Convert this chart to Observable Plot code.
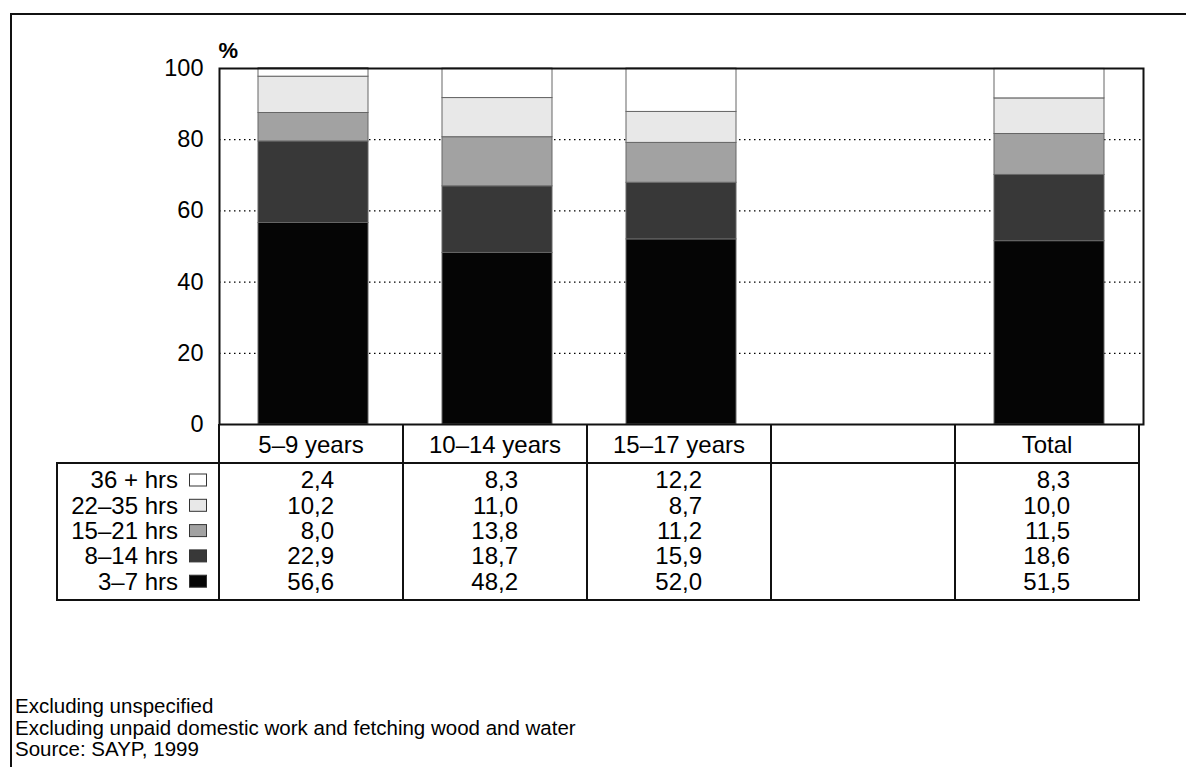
<!DOCTYPE html>
<html>
<head>
<meta charset="utf-8">
<script src="https://cdn.jsdelivr.net/npm/d3@7"></script>
<script src="https://cdn.jsdelivr.net/npm/@observablehq/plot@0.6"></script>
<style>
  body { margin: 0; background: #fff; font-family: "Liberation Sans", Arial, sans-serif; }
  #page { position: relative; width: 1186px; height: 767px; overflow: hidden; background: #fff; }
  #outer { position: absolute; left: 10px; top: 13px; width: 1300px; height: 900px; border-top: 2px solid #111; border-left: 2px solid #111; }
  #chart { position: absolute; left: 0; top: 0; }
  #table { position: absolute; left: 0; top: 0; }
  #notes { position: absolute; left: 15px; top: 695px; font-size: 20.5px; line-height: 21.5px; color: #000; }
</style>
</head>
<body>
<div id="page">
  <div id="outer"></div>
  <div id="chart"></div>
  <svg id="table" width="1186" height="767"></svg>
  <div id="notes">
    <div>Excluding unspecified</div>
    <div>Excluding unpaid domestic work and fetching wood and water</div>
    <div>Source: SAYP, 1999</div>
  </div>
</div>
<script>
// ---- data ----
const categories = ["5–9 years", "10–14 years", "15–17 years", "", "Total"];
const bands = ["3–7 hrs", "8–14 hrs", "15–21 hrs", "22–35 hrs", "36 + hrs"];
const values_5_9   = [56.6, 22.9, 8.0, 10.2, 2.4];
const values_10_14 = [48.2, 18.7, 13.8, 11.0, 8.3];
const values_15_17 = [52.0, 15.9, 11.2, 8.7, 12.2];
const values_blank = [null, null, null, null, null];
const values_total = [51.5, 18.6, 11.5, 10.0, 8.3];
const yTicks = [0, 20, 40, 60, 80, 100];
const bandFills = ["#050505", "#383838", "#a2a2a2", "#e8e8e8", "#ffffff"];

const seriesByCat = [values_5_9, values_10_14, values_15_17, values_blank, values_total];
const rows = [];
categories.forEach((c, i) => {
  seriesByCat[i].forEach((v, j) => {
    if (v != null) rows.push({cat: c, band: bands[j], value: v});
  });
});

const chart = Plot.plot({
  width: 1186,
  height: 424,
  marginLeft: 219,
  marginRight: 43,
  marginTop: 68,
  marginBottom: 0,
  style: { fontFamily: "'Liberation Sans', Arial, sans-serif", fontSize: "23px", color: "#000", background: "transparent", overflow: "visible" },
  x: { domain: categories, paddingInner: 0.4, paddingOuter: 0.2, axis: null },
  y: { domain: [0, 100], axis: null },
  color: { domain: bands, range: bandFills },
  marks: [
    Plot.gridY(yTicks.filter(d => d > 0 && d < 100), { stroke: "#000", strokeOpacity: 1, strokeWidth: 1.3, strokeDasharray: "1.5,3.5" }),
    Plot.barY(rows, { x: "cat", y: "value", fill: "band", stroke: "#666", strokeWidth: 1 }),
    Plot.frame({ stroke: "#111", strokeWidth: 2 }),
    Plot.axisY(yTicks, { tickSize: 0, tickPadding: 16, fontSize: 23.5, label: null, tickFormat: d => String(d) }),
    Plot.text(["%"], { frameAnchor: "top-left", text: d => d, dy: -26, dx: -1, textAnchor: "start", fontWeight: "bold", fontSize: 22 })
  ]
});
document.getElementById("chart").appendChild(chart);

// ---- data table below the chart, aligned to the chart's x scale ----
const xs = chart.scale("x");
const step = xs.step || xs.bandwidth / 0.6;
const x0 = xs.range[0];
const colLeft = i => x0 + i * step;
const colMid = i => x0 + (i + 0.5) * step;
const yPlotBottom = 424, yHeadBottom = 463, yTableBottom = 600, xTableLeft = 57;
const lineCol = "#111";

const svg = d3.select("#table");
const g = svg.append("g").attr("font-family", "'Liberation Sans', Arial, sans-serif").attr("font-size", 24).attr("fill", "#000");

// horizontal lines
g.append("line").attr("x1", xTableLeft - 1).attr("x2", colLeft(5) + 1).attr("y1", yHeadBottom).attr("y2", yHeadBottom).attr("stroke", lineCol).attr("stroke-width", 2);
g.append("line").attr("x1", xTableLeft - 1).attr("x2", colLeft(5) + 1).attr("y1", yTableBottom).attr("y2", yTableBottom).attr("stroke", lineCol).attr("stroke-width", 2);
// vertical lines
g.append("line").attr("x1", xTableLeft).attr("x2", xTableLeft).attr("y1", yHeadBottom).attr("y2", yTableBottom).attr("stroke", lineCol).attr("stroke-width", 2);
for (let i = 0; i <= categories.length; i++) {
  g.append("line").attr("x1", colLeft(i)).attr("x2", colLeft(i)).attr("y1", yPlotBottom).attr("y2", yTableBottom).attr("stroke", lineCol).attr("stroke-width", 2);
}
// header labels
categories.forEach((c, i) => {
  g.append("text").attr("x", colMid(i)).attr("y", 445).attr("dy", "0.35em").attr("text-anchor", "middle").text(c);
});
// rows (top row = last band)
const rowY = j => 480 + j * 25.3;
const fmt = v => v.toFixed(1).replace(".", ",");
const order = [4, 3, 2, 1, 0];
order.forEach((b, j) => {
  g.append("text").attr("x", 178).attr("y", rowY(j)).attr("dy", "0.35em").attr("text-anchor", "end").text(bands[b]);
  g.append("rect").attr("x", 189.5).attr("y", rowY(j) - 6).attr("width", 17).attr("height", 12)
    .attr("fill", bandFills[b]).attr("stroke", "#333").attr("stroke-width", 1);
  seriesByCat.forEach((vals, i) => {
    const v = vals[b];
    if (v == null) return;
    g.append("text").attr("x", colMid(i) + 23).attr("y", rowY(j)).attr("dy", "0.35em").attr("text-anchor", "end").text(fmt(v));
  });
});
</script>
</body>
</html>
